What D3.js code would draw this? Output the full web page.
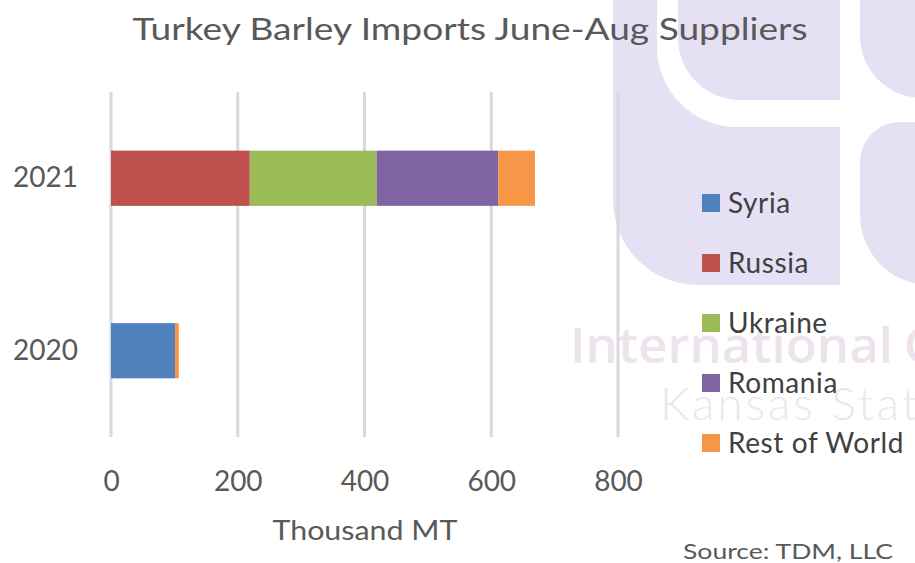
<!DOCTYPE html>
<html>
<head>
<meta charset="utf-8">
<script src="https://cdn.jsdelivr.net/npm/d3@7"></script>
<style>
  body { margin: 0; background: #fff; }
  svg { display: block; }
</style>
</head>
<body>
<div id="chart-container"></div>
<script>
// Chart data
const years = ["2021", "2020"];
const suppliers = ["Syria", "Russia", "Ukraine", "Romania", "Rest of World"];
const syria = [0, 101];
const russia = [219, 0];
const ukraine = [200, 0];
const romania = [192, 0];
const restOfWorld = [58, 6];
const xTicks = [0, 200, 400, 600, 800];
const colors = ["#4F81BD", "#C0504D", "#9BBB59", "#8064A2", "#F79646"];

const W = 915, H = 563;
const font = "Lato, 'Open Sans', sans-serif";

const svg = d3.select("#chart-container")
  .append("svg")
  .attr("width", W)
  .attr("height", H);

// background watermark (logo shapes)
const purple = "#e6e0f5";
function roundedRect(x0, y0, x1, y1, rtl, rbl) {
  const p = d3.path();
  p.moveTo(x1, y0);
  p.lineTo(x1, y1);
  p.lineTo(x0 + rbl, y1);
  p.arcTo(x0, y1, x0, y1 - rbl, rbl);
  p.lineTo(x0, y0 + rtl);
  if (rtl > 0) p.arcTo(x0, y0, x0 + rtl, y0, rtl);
  else p.lineTo(x0, y0);
  p.closePath();
  return p.toString();
}
const wm = svg.append("g");
wm.append("path").attr("d", roundedRect(613, -5, 840, 285, 0, 85)).attr("fill", purple);
wm.append("path").attr("d", roundedRect(657, -5, 840, 127, 0, 80)).attr("fill", "#fff");
wm.append("path").attr("d", roundedRect(678, -5, 840, 100, 0, 62)).attr("fill", purple);
wm.append("path").attr("d", roundedRect(860, -5, 930, 98, 0, 62)).attr("fill", purple);
wm.append("path").attr("d", roundedRect(860, 122, 930, 285, 40, 70)).attr("fill", purple);

wm.append("text")
  .attr("x", 570).attr("y", 363)
  .attr("textLength", 323).attr("lengthAdjust", "spacingAndGlyphs")
  .style("font-family", "'Open Sans', sans-serif").style("font-size", "48px").style("font-weight", 600)
  .attr("fill", "#ece3ec")
  .text("International");
wm.append("text")
  .attr("x", 904).attr("y", 363)
  .style("font-family", "'Open Sans', sans-serif").style("font-size", "48px").style("font-weight", 600)
  .attr("fill", "#ece3ec")
  .text("Grains Program");
wm.append("text")
  .attr("x", 660).attr("y", 420)
  .style("font-family", "Lato, 'Open Sans', sans-serif").style("font-size", "46px").style("font-weight", 300)
  .style("letter-spacing", "3px")
  .attr("fill", "#ede6ee")
  .text("Kansas State University");

// scales
const x = d3.scaleLinear().domain([0, 800]).range([111, 618]);
const y = d3.scaleBand().domain(years).range([92, 437]).paddingInner(0.68).paddingOuter(0.34);

// gridlines
svg.append("g")
  .selectAll("line")
  .data(xTicks)
  .join("line")
  .attr("x1", d => x(d))
  .attr("x2", d => x(d))
  .attr("y1", 92)
  .attr("y2", 437)
  .attr("stroke", "#d9d9d9")
  .attr("stroke-width", 3);

// stacked bars
const rows = years.map((yr, i) => ({
  year: yr,
  "Syria": syria[i],
  "Russia": russia[i],
  "Ukraine": ukraine[i],
  "Romania": romania[i],
  "Rest of World": restOfWorld[i]
}));
const stack = d3.stack().keys(suppliers)(rows);
const color = d3.scaleOrdinal().domain(suppliers).range(colors);

svg.append("g")
  .selectAll("g")
  .data(stack)
  .join("g")
  .attr("fill", d => color(d.key))
  .selectAll("rect")
  .data(d => d)
  .join("rect")
  .attr("x", d => x(d[0]))
  .attr("y", d => y(d.data.year))
  .attr("width", d => x(d[1]) - x(d[0]))
  .attr("height", y.bandwidth());

// x axis
svg.append("g")
  .attr("transform", "translate(0,437)")
  .call(d3.axisBottom(x).tickValues(xTicks).tickSize(0).tickPadding(34))
  .call(g => g.select(".domain").remove())
  .selectAll(".tick text")
  .style("font-family", font)
  .style("font-size", "28px")
  .attr("fill", "#595959");

// y axis
svg.append("g")
  .attr("transform", "translate(111,0)")
  .call(d3.axisLeft(y).tickSize(0).tickPadding(33))
  .call(g => g.select(".domain").remove())
  .selectAll(".tick text")
  .style("font-family", font)
  .style("font-size", "28px")
  .attr("fill", "#595959");

// title
svg.append("text")
  .attr("x", 470).attr("y", 40)
  .attr("text-anchor", "middle")
  .attr("textLength", 675).attr("lengthAdjust", "spacingAndGlyphs")
  .style("font-family", font).style("font-size", "31px")
  .attr("fill", "#595959")
  .text("Turkey Barley Imports June-Aug Suppliers");

// axis title
svg.append("text")
  .attr("x", 365).attr("y", 540)
  .attr("text-anchor", "middle")
  .attr("textLength", 185).attr("lengthAdjust", "spacingAndGlyphs")
  .style("font-family", font).style("font-size", "27px")
  .attr("fill", "#595959")
  .text("Thousand MT");

// legend
const legend = svg.append("g")
  .selectAll("g")
  .data(suppliers)
  .join("g")
  .attr("transform", (d, i) => `translate(702,${203 + i * 60})`);
legend.append("rect")
  .attr("x", 0).attr("y", -9)
  .attr("width", 18).attr("height", 18)
  .attr("fill", d => color(d));
legend.append("text")
  .attr("x", 26).attr("y", 0).attr("dy", "0.36em")
  .style("font-family", font).style("font-size", "28px")
  .style("letter-spacing", "0.6px")
  .attr("fill", "#404040")
  .text(d => d);

// source credit
svg.append("text")
  .attr("x", 893).attr("y", 559)
  .attr("text-anchor", "end")
  .attr("textLength", 210).attr("lengthAdjust", "spacingAndGlyphs")
  .style("font-family", font).style("font-size", "22px")
  .attr("fill", "#595959")
  .text("Source: TDM, LLC");
</script>
</body>
</html>
